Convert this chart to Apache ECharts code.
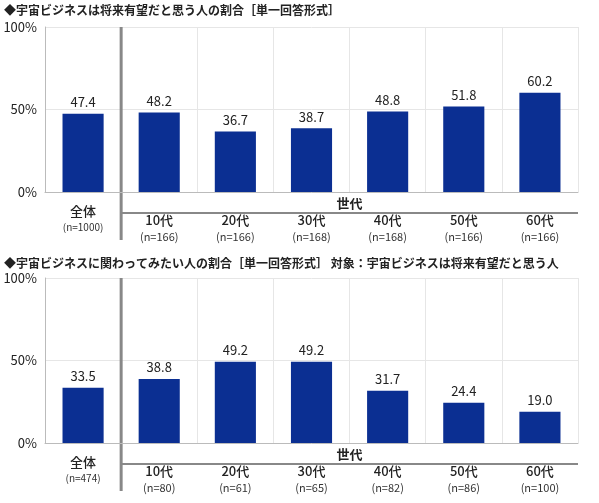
<!DOCTYPE html>
<html><head><meta charset="utf-8">
<script src="https://cdn.jsdelivr.net/npm/echarts@6/dist/echarts.min.js"></script>
<style>body{margin:0;background:#fff}#c{width:599px;height:503px}</style>
</head><body><div id="c"></div>
<script>
var categories = ['全体', '10代', '20代', '30代', '40代', '50代', '60代'];
var values1 = [47.4, 48.2, 36.7, 38.7, 48.8, 51.8, 60.2];
var counts1 = ['n=1000', 'n=166', 'n=166', 'n=168', 'n=168', 'n=166', 'n=166'];
var values2 = [33.5, 38.8, 49.2, 49.2, 31.7, 24.4, 19.0];
var counts2 = ['n=474', 'n=80', 'n=61', 'n=65', 'n=82', 'n=86', 'n=100'];
var yTicks = ['0%', '50%', '100%'];
var title1 = '◆宇宙ビジネスは将来有望だと思う人の割合［単一回答形式］';
var title2 = '◆宇宙ビジネスに関わってみたい人の割合［単一回答形式］ 対象：宇宙ビジネスは将来有望だと思う人';

var font = '"Noto Sans CJK JP", sans-serif';
var chart = echarts.init(document.getElementById('c'));
var grids = [{left: 45, right: 21, top: 27, height: 165}, {left: 45, right: 21, top: 278, height: 165}];

function xAxis(i) {
    return {
        type: 'category', gridIndex: i, data: categories,
        axisLabel: {show: false}, axisTick: {show: false},
        axisLine: {lineStyle: {color: '#bbb'}},
        splitLine: {show: true, lineStyle: {color: '#e6e6e6'}}
    };
}
function yAxis(i) {
    return {
        type: 'value', gridIndex: i, min: 0, max: 100, interval: 50,
        axisLine: {show: true, lineStyle: {color: '#bbb'}},
        splitLine: {show: true, lineStyle: {color: '#e6e6e6'}},
        axisLabel: {color: '#222', fontSize: 13, fontFamily: font, margin: 8,
            formatter: function (v) { return yTicks[v / 50]; }}
    };
}
function bars(i, vals) {
    return {
        type: 'bar', xAxisIndex: i, yAxisIndex: i, data: vals, barWidth: '54%',
        itemStyle: {color: '#0b2f92'},
        label: {show: true, position: 'top', color: '#222', fontSize: 13, fontFamily: font,
            formatter: function (p) { return p.value.toFixed(1); }}
    };
}

chart.setOption({
    animation: false,
    grid: grids,
    xAxis: [xAxis(0), xAxis(1)],
    yAxis: [yAxis(0), yAxis(1)],
    series: [bars(0, values1), bars(1, values2)]
});

function labels(i, counts, titleY, title) {
    var g = [];
    var top = grids[i].top, bot = top + grids[i].height;
    var x0 = chart.convertToPixel({gridIndex: i}, [0, 0])[0];
    var x1 = chart.convertToPixel({gridIndex: i}, [1, 0])[0];
    var xEnd = chart.convertToPixel({gridIndex: i}, [6, 0])[0] + (x1 - x0) / 2;
    var sep = (x0 + x1) / 2;
    g.push({type: 'text', left: 4, top: titleY, style: {text: title, font: 'bold 12px ' + font, fill: '#222'}});
    g.push({type: 'line', shape: {x1: sep, y1: top, x2: sep, y2: bot + 48}, style: {stroke: '#888', lineWidth: 3}});
    g.push({type: 'line', shape: {x1: sep, y1: bot + 21, x2: xEnd, y2: bot + 21}, style: {stroke: '#888', lineWidth: 2}});
    g.push({type: 'text', x: (sep + xEnd) / 2, y: bot + 5, style: {text: '世代', font: 'bold 13px ' + font, fill: '#222', align: 'center'}});
    for (var k = 0; k < categories.length; k++) {
        var x = chart.convertToPixel({gridIndex: i}, [k, 0])[0];
        var y = k === 0 ? bot + 13 : bot + 22;
        g.push({type: 'text', x: x, y: y, style: {text: categories[k], font: '500 13px ' + font, fill: '#222', align: 'center'}});
        g.push({type: 'text', x: x, y: y + 17, style: {text: '(' + counts[k] + ')', font: (k === 0 ? 10 : 11) + 'px ' + font, fill: '#333', align: 'center'}});
    }
    return g;
}
chart.setOption({graphic: labels(0, counts1, 4, title1).concat(labels(1, counts2, 257, title2))});
</script>
</body></html>
